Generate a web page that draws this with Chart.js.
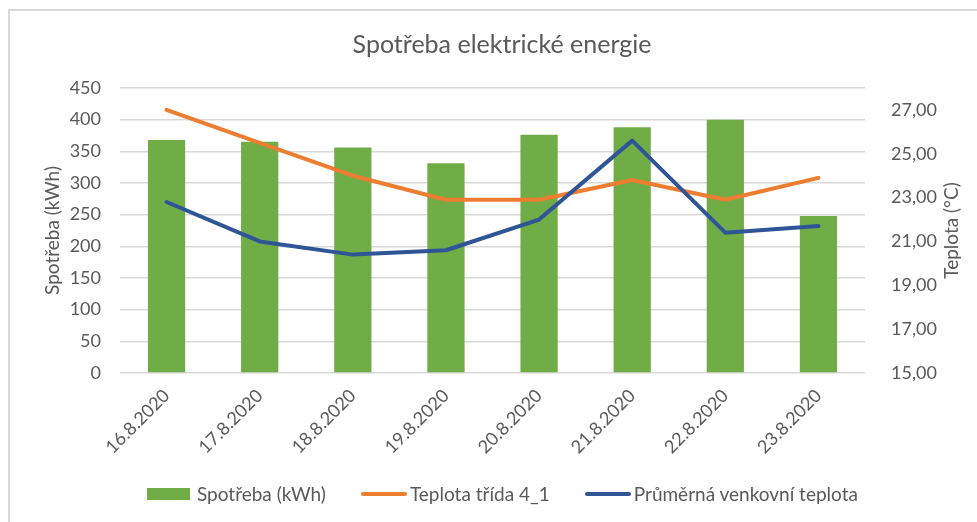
<!DOCTYPE html>
<html>
<head>
<meta charset="utf-8">
<script src="https://cdn.jsdelivr.net/npm/chart.js@4"></script>
<style>
  html, body { margin: 0; padding: 0; background: #fff; }
  #wrap { position: relative; width: 977px; height: 522px; overflow: hidden; }
  #frame { position: absolute; left: 8px; top: 9px; width: 1000px; height: 600px;
           border-left: 2px solid #d9d9d9; border-top: 2px solid #d9d9d9; }
  canvas { position: absolute; left: 0; top: 0; }
  #legend { position: absolute; left: 147px; top: 482px; display: flex; align-items: center;
            font-family: Lato, sans-serif; font-size: 19px; color: #595959; white-space: nowrap; }
  .item { display: flex; align-items: center; margin-right: 35px; }
  .box { width: 43px; height: 12px; margin-right: 7px; }
  .ln { width: 46px; height: 4px; border-radius: 2px; margin-right: 3px; }
</style>
</head>
<body>
<div id="wrap">
  <div id="frame"></div>
  <canvas id="chart" width="977" height="522"></canvas>
  <div id="legend"></div>
</div>
<script>
const labels = ['16.8.2020', '17.8.2020', '18.8.2020', '19.8.2020', '20.8.2020', '21.8.2020', '22.8.2020', '23.8.2020'];
const spotreba = [368, 365, 356, 331, 376, 388, 400, 248];
const teplotaTrida = [27.0, 25.5, 24.0, 22.9, 22.9, 23.8, 22.9, 23.9];
const venkovniTeplota = [22.8, 21.0, 20.4, 20.6, 22.0, 25.6, 21.4, 21.7];
const rightTicks = [15, 17, 19, 21, 23, 25, 27];

const TEXT = '#595959';
const GRID = '#d9d9d9';
const FONT = 'Lato, sans-serif';
const TITLE = 'Spotřeba elektrické energie';

const series = [
  { label: 'Spotřeba (kWh)', color: '#70ad47', kind: 'box' },
  { label: 'Teplota třída 4_1', color: '#ed7d31', kind: 'ln' },
  { label: 'Průměrná venkovní teplota', color: '#2f5597', kind: 'ln' },
];

// legend in html, so the markers can have different shapes
document.getElementById('legend').innerHTML = series.map(s => `
  <div class="item"><span class="${s.kind}" style="background:${s.color}"></span>${s.label}</div>
`).join('');

// title and axis titles drawn by hand: the excel layout puts them off-centre
const chartTexts = {
  id: 'chartTexts',
  afterDraw(chart) {
    const { ctx, chartArea } = chart;
    const mid = (chartArea.top + chartArea.bottom) / 2;
    ctx.save();
    ctx.fillStyle = TEXT;
    ctx.textAlign = 'center';
    ctx.textBaseline = 'middle';
    ctx.font = '25px ' + FONT;
    ctx.fillText(TITLE, 502, 45);
    ctx.font = '19px ' + FONT;
    [[53, 'Spotřeba (kWh)'], [952, 'Teplota (°C)']].forEach(([x, text]) => {
      ctx.save();
      ctx.translate(x, mid);
      ctx.rotate(-Math.PI / 2);
      ctx.fillText(text, 0, 0);
      ctx.restore();
    });
    ctx.restore();
  }
};

new Chart(document.getElementById('chart'), {
  data: {
    labels: labels,
    datasets: [
      {
        type: 'line',
        label: series[2].label,
        data: venkovniTeplota,
        yAxisID: 'y1',
        borderColor: series[2].color,
        backgroundColor: series[2].color,
        borderWidth: 4,
        borderCapStyle: 'round',
        borderJoinStyle: 'round',
        pointRadius: 0,
        tension: 0,
        order: 1,
      },
      {
        type: 'line',
        label: series[1].label,
        data: teplotaTrida,
        yAxisID: 'y1',
        borderColor: series[1].color,
        backgroundColor: series[1].color,
        borderWidth: 4,
        borderCapStyle: 'round',
        borderJoinStyle: 'round',
        pointRadius: 0,
        tension: 0,
        order: 2,
      },
      {
        type: 'bar',
        label: series[0].label,
        data: spotreba,
        yAxisID: 'y',
        backgroundColor: series[0].color,
        categoryPercentage: 1,
        barPercentage: 0.4,
        order: 3,
      },
    ],
  },
  options: {
    responsive: false,
    animation: false,
    layout: { padding: { top: 88, left: 0, right: 0, bottom: 0 } },
    plugins: {
      legend: { display: false },
      tooltip: { enabled: false },
      title: { display: false },
    },
    scales: {
      x: {
        grid: { display: false },
        border: { display: false },
        ticks: {
          color: TEXT,
          font: { family: FONT, size: 18 },
          minRotation: 45,
          maxRotation: 45,
          padding: 4,
        },
        afterFit(s) { s.height = 149; },
      },
      y: {
        position: 'left',
        min: 0,
        max: 450,
        grid: { color: GRID, lineWidth: 1.5, drawTicks: false },
        border: { display: false },
        ticks: {
          stepSize: 50,
          color: TEXT,
          font: { family: FONT, size: 18 },
          padding: 19,
        },
        afterFit(s) { s.width = 120; },
      },
      y1: {
        position: 'right',
        min: 15,
        max: 28,
        grid: { display: false },
        border: { display: false },
        afterBuildTicks(s) { s.ticks = rightTicks.map(v => ({ value: v })); },
        ticks: {
          color: TEXT,
          font: { family: FONT, size: 18 },
          padding: 18,
          callback: v => v.toFixed(2).replace('.', ','),
        },
        afterFit(s) { s.width = 112; },
      },
    },
  },
  plugins: [chartTexts],
});
</script>
</body>
</html>
